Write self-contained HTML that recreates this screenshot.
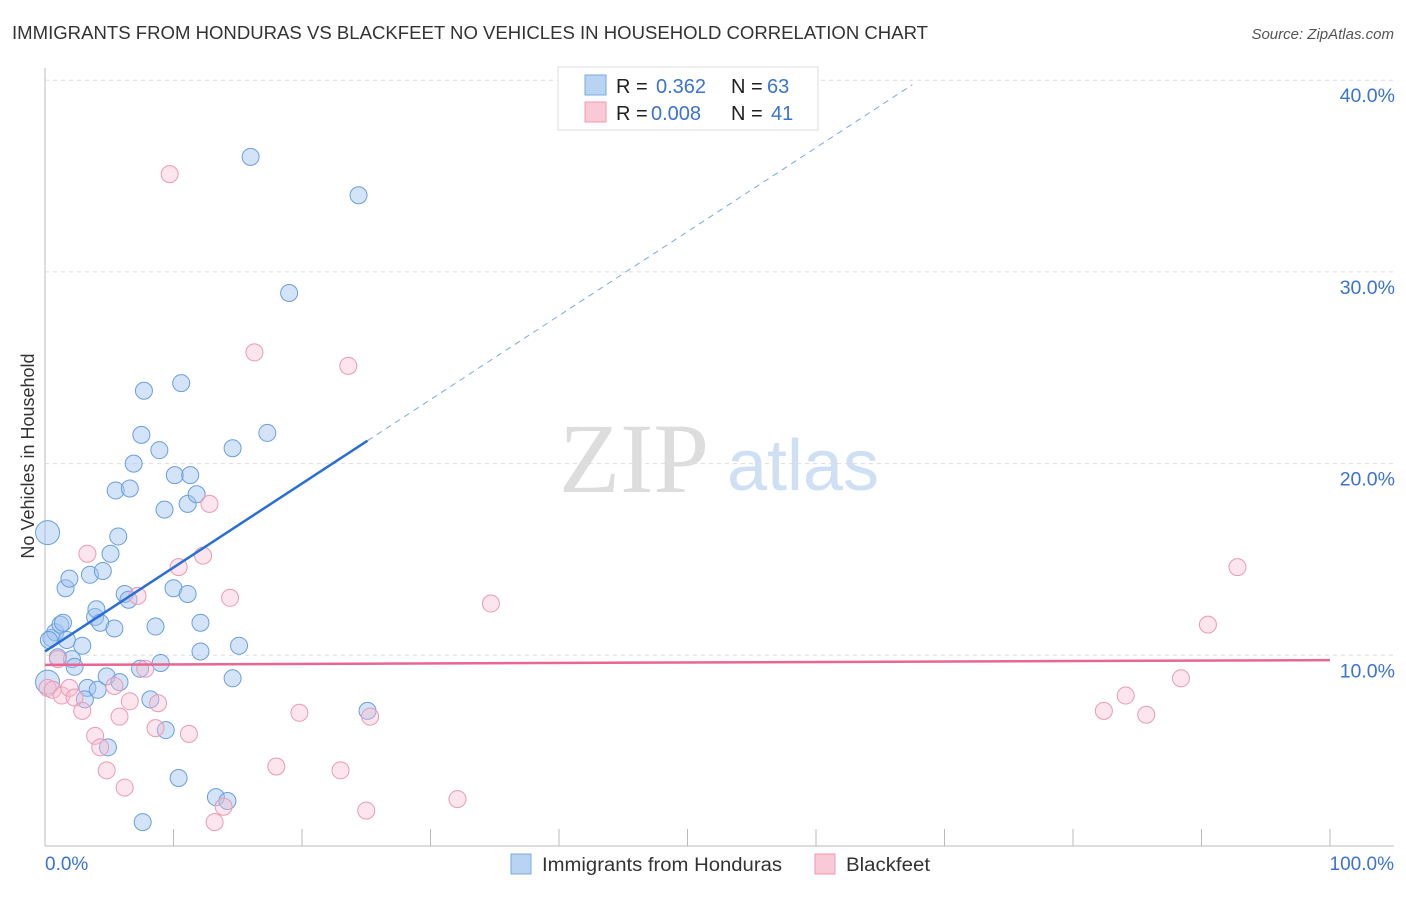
<!DOCTYPE html>
<html><head><meta charset="utf-8"><style>
body{margin:0;background:#fff;font-family:"Liberation Sans",sans-serif;}
svg text{font-family:"Liberation Sans",sans-serif;}
</style></head><body>
<svg id="c" width="1406" height="892" xmlns="http://www.w3.org/2000/svg">
<text x="12" y="39" font-size="18" fill="#333" textLength="916" lengthAdjust="spacingAndGlyphs">IMMIGRANTS FROM HONDURAS VS BLACKFEET NO VEHICLES IN HOUSEHOLD CORRELATION CHART</text>
<text x="1394" y="39" font-size="15" fill="#555" font-style="italic" text-anchor="end">Source: ZipAtlas.com</text>
<text x="34" y="456" font-size="18" fill="#333" text-anchor="middle" transform="rotate(-90 34 456)">No Vehicles in Household</text>
<g>
<text x="634" y="492" font-size="100" fill="#ddd" font-family="Liberation Serif" text-anchor="middle" style="font-family:'Liberation Serif',serif">ZIP</text>
<text x="803" y="490" font-size="72" fill="#cfe0f4" text-anchor="middle">atlas</text>
</g>
<g id="grid"></g><g id="pts"></g><g id="lines"></g>
<g>
<rect x="558" y="67" width="260" height="63" fill="#fff" stroke="#ddd"/>
<rect x="585" y="75" width="21" height="20" fill="#b9d3f3" stroke="#7aa8e0"/>
<rect x="585" y="102" width="21" height="20" fill="#f9c9d7" stroke="#ec9ab2"/>
<text x="616" y="93" font-size="20" fill="#222">R = </text><text x="656" y="93" font-size="20" fill="#3a73d0">0.362</text>
<text x="731" y="93" font-size="20" fill="#222">N = </text><text x="767" y="93" font-size="20" fill="#3a73d0">63</text>
<text x="616" y="120" font-size="20" fill="#222">R = </text><text x="651" y="120" font-size="20" fill="#3a73d0">0.008</text>
<text x="731" y="120" font-size="20" fill="#222">N = </text><text x="771" y="120" font-size="20" fill="#3a73d0">41</text>
</g>
<g>
<rect x="511" y="854" width="20" height="20" fill="#b9d3f3" stroke="#7aa8e0"/>
<text x="542" y="871" font-size="19" fill="#333" textLength="240" lengthAdjust="spacingAndGlyphs">Immigrants from Honduras</text>
<rect x="815" y="854" width="20" height="20" fill="#f9c9d7" stroke="#ec9ab2"/>
<text x="846" y="871" font-size="19" fill="#333" textLength="84" lengthAdjust="spacingAndGlyphs">Blackfeet</text>
</g>
</svg>
<script>
const yTicks=[10,20,30,40];
const xTickLabels=["0.0%","100.0%"];
const hondurasX=[0.2,0.5,0.8,1.2,1.4,1.7,1.6,1.9,2.1,2.3,2.9,3.3,3.1,3.5,3.9,4.0,4.1,4.3,4.5,4.8,4.9,5.1,5.4,5.5,5.7,5.8,6.2,6.5,6.6,6.9,7.4,7.5,7.7,7.6,8.2,8.6,8.9,9.0,9.3,9.4,10.0,10.1,10.4,10.6,11.1,11.1,11.3,11.8,12.1,12.1,13.3,14.2,14.6,14.6,15.1,16.0,17.3,19.0,24.4,25.1,0.2,1.0,0.3];
const hondurasY=[16.4,10.9,11.2,11.6,11.7,10.8,13.5,14.0,9.8,9.4,10.5,8.3,7.7,14.2,12.0,12.4,8.2,11.7,14.4,8.9,5.2,15.3,11.4,18.6,16.2,8.6,13.2,12.9,18.7,20.0,9.3,21.5,23.8,1.3,7.7,11.5,20.7,9.6,17.6,6.1,13.5,19.4,3.6,24.2,17.9,13.2,19.4,18.4,10.2,11.7,2.6,2.4,8.8,20.8,10.5,36.0,21.6,28.9,34.0,7.1,8.6,9.9,10.8];
const blackfeetX=[0.2,0.6,1.0,1.3,1.9,2.3,2.9,3.3,3.9,4.3,4.8,5.4,5.8,6.2,6.6,7.2,7.8,8.6,8.8,9.7,10.4,11.2,12.3,12.8,13.2,13.9,14.4,16.3,18.0,19.8,23.0,23.6,25.0,25.3,32.1,34.7,82.4,84.1,85.7,88.4,90.5,92.8];
const blackfeetY=[8.3,8.2,9.8,7.9,8.3,7.8,7.1,15.3,5.8,5.2,4.0,8.4,6.8,3.1,7.6,13.1,9.3,6.2,7.5,35.1,14.6,5.9,15.2,17.9,1.3,2.1,13.0,25.8,4.2,7.0,4.0,25.1,1.9,6.8,2.5,12.7,7.1,7.9,6.9,8.8,11.6,14.6];
const hondurasTrend=[10.2,0.438];
const blackfeetTrend=[9.5,0.0025];
const NS="http://www.w3.org/2000/svg";
const X=v=>45+v*12.85, Y=v=>847-v*19.17;
function mk(t,a,p){const e=document.createElementNS(NS,t);for(const k in a)e.setAttribute(k,a[k]);p.appendChild(e);return e;}
const grid=document.getElementById('grid');
mk('line',{x1:45,y1:68,x2:45,y2:846,stroke:'#bbb'},grid);
mk('line',{x1:45,y1:846,x2:1394,y2:846,stroke:'#bbb'},grid);
yTicks.forEach(t=>{
 const l=mk('line',{x1:45,y1:Y(t),x2:1394,y2:Y(t),stroke:'#ddd','stroke-dasharray':'4 4'},grid);
 
 
 const tx=mk('text',{x:1395,y:Y(t)+22,'font-size':19.5,fill:'#3a73d0','text-anchor':'end'},grid);tx.textContent=t.toFixed(1)+'%';
 
 
});
for(let i=0;i<=10;i++){const tk=mk('line',{x1:X(i*10),y1:829,x2:X(i*10),y2:846,stroke:'#bbb'},grid);
 
 }
const xl0=mk('text',{x:45,y:870,'font-size':19,fill:'#3a73d0'},grid);xl0.textContent=xTickLabels[0];


const xl1=mk('text',{x:1394,y:870,'font-size':19,fill:'#3a73d0','text-anchor':'end'},grid);xl1.textContent=xTickLabels[1];


const pts=document.getElementById('pts');
hondurasX.forEach((x,i)=>{const r=(i===0||i===60)?12:8.5;
 const c=mk('circle',{cx:X(x),cy:Y(hondurasY[i]),r:r,fill:'rgba(160,196,240,0.45)',stroke:'#6a9ee0','stroke-width':1},pts);
 
 });
blackfeetX.forEach((x,i)=>{
 const c=mk('circle',{cx:X(x),cy:Y(blackfeetY[i]),r:8.5,fill:'rgba(248,190,208,0.4)',stroke:'#eb9ab4','stroke-width':1},pts);
 
 });
const lines=document.getElementById('lines');
const f=(tr,x)=>tr[0]+tr[1]*x;
const b1=mk('line',{x1:X(0),y1:Y(f(hondurasTrend,0)),x2:X(25.1),y2:Y(f(hondurasTrend,25.1)),stroke:'#2a6fd6','stroke-width':2.5},lines);


const b2=mk('line',{x1:X(25.1),y1:Y(f(hondurasTrend,25.1)),x2:X(67.5),y2:Y(f(hondurasTrend,67.5)),stroke:'#7aa8e0','stroke-width':1,'stroke-dasharray':'6 5'},lines);


const p1=mk('line',{x1:X(0),y1:Y(f(blackfeetTrend,0)),x2:X(100),y2:Y(f(blackfeetTrend,100)),stroke:'#e8668f','stroke-width':2.5},lines);


</script>
</body></html>
